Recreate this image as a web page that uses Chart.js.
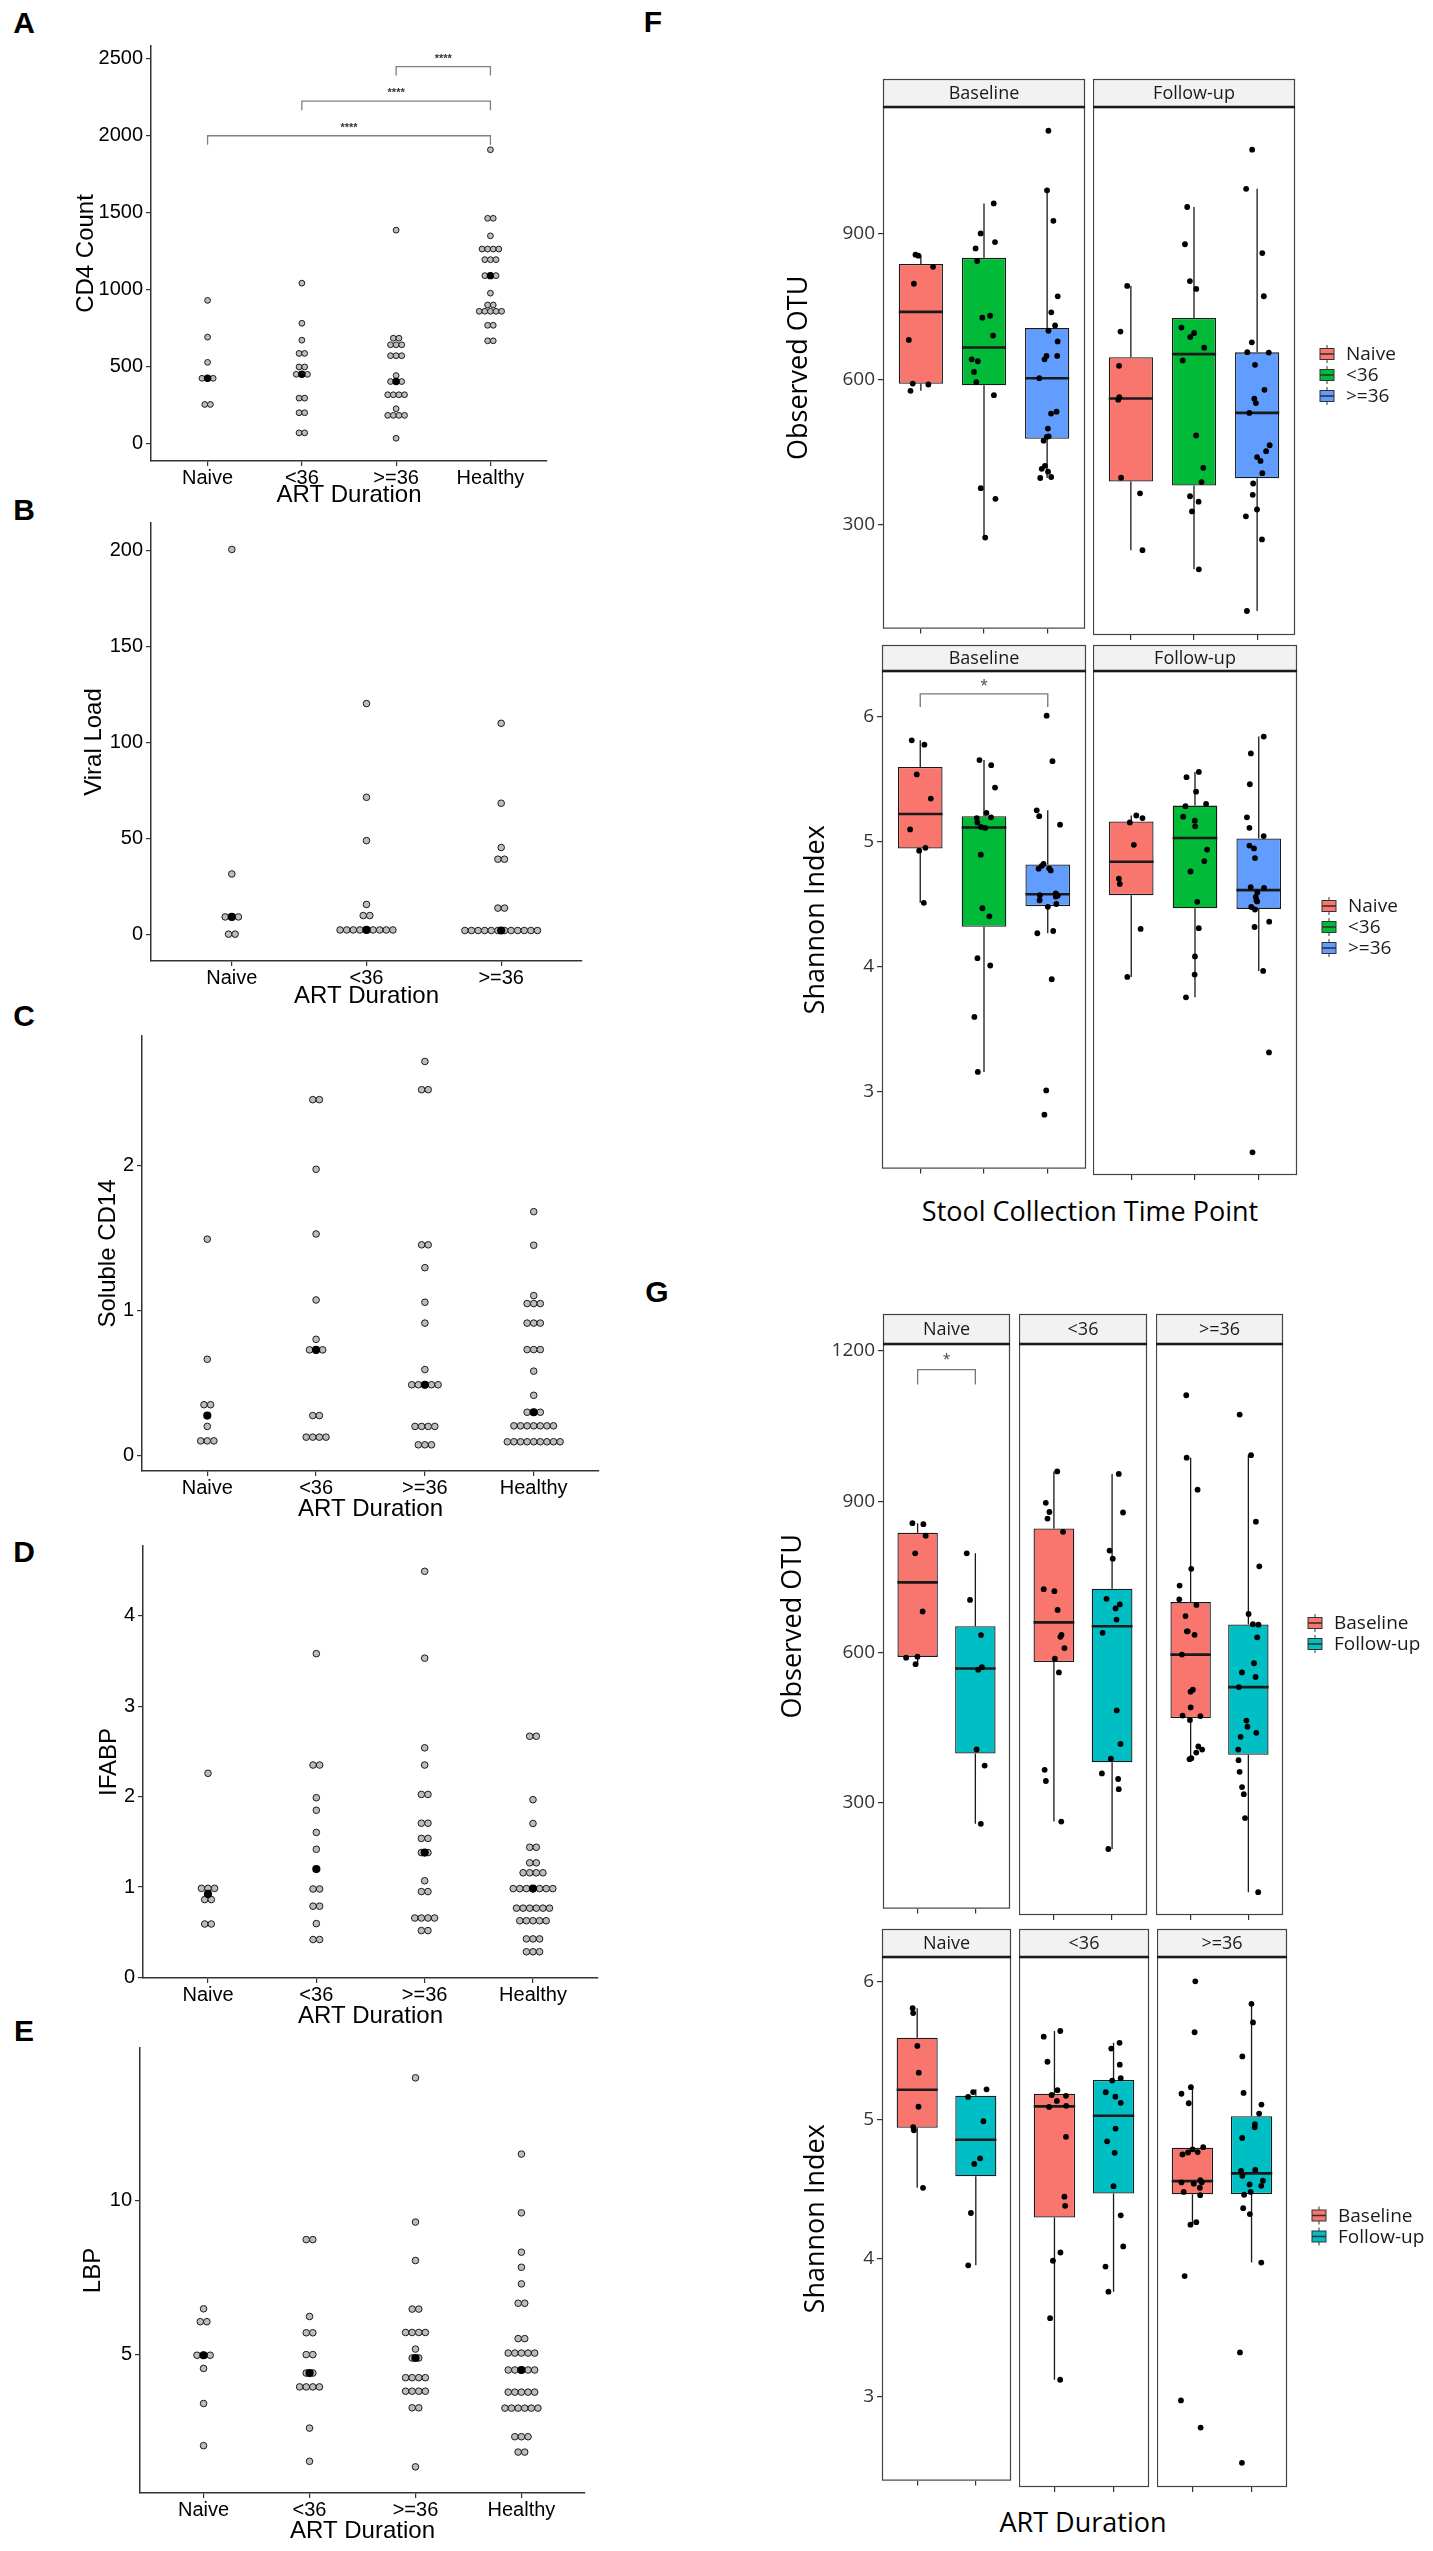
<!DOCTYPE html>
<html>
<head>
<meta charset="utf-8">
<title>Immune markers and gut microbial diversity by ART duration</title>
<script src="https://cdn.jsdelivr.net/npm/chart.js@4.4.1/dist/chart.umd.min.js"></script>
<style>
  html, body { margin: 0; padding: 0; background: #fff; }
  #figure { position: relative; width: 1433px; height: 2551px; overflow: hidden; }
  #figure canvas { position: absolute; }
  .tag { position: absolute; font: bold 30px 'Liberation Sans', Arial, sans-serif; line-height: 1; transform: translate(-50%, -50%); }
  .xtitle { position: absolute; font: 27px 'Open Sans', sans-serif; line-height: 1; white-space: nowrap; transform: translate(-50%, -50%); }
</style>
</head>
<body>
<div id="figure">
  <div class="tag" style="left:24px;top:23px">A</div>
  <div class="tag" style="left:24px;top:510px">B</div>
  <div class="tag" style="left:24px;top:1016px">C</div>
  <div class="tag" style="left:24px;top:1552px">D</div>
  <div class="tag" style="left:24px;top:2031px">E</div>
  <div class="tag" style="left:653px;top:22px">F</div>
  <div class="tag" style="left:657px;top:1292px">G</div>
  <div class="xtitle" style="left:1090px;top:1210px">Stool Collection Time Point</div>
  <div class="xtitle" style="left:1083px;top:2521px">ART Duration</div>
</div>
<script>
// categories
const groups4 = ['Naive', '<36', '>=36', 'Healthy'];
const groups3 = ['Naive', '<36', '>=36'];
const timePoints = ['Baseline', 'Follow-up'];

// A - CD4 count (dot plot, binned values)
const cd4Naive = [929, 690, 526, 422, 422, 422, 252, 252];
const cd4Lt36 = [1041, 780, 670, 584, 584, 496, 496, 448, 448, 448, 293, 293, 198, 198, 67, 67];
const cd4Ge36 = [1386, 683, 683, 640, 640, 640, 569, 569, 569, 440, 401, 401, 401, 315, 315, 315, 315, 224, 181, 181, 181, 181, 32];
const cd4Healthy = [1909, 1463, 1463, 1349, 1263, 1263, 1263, 1263, 1194, 1194, 1194, 1090, 1090, 1090, 976, 899, 899, 858, 858, 858, 858, 858, 767, 767, 666, 666];
const cd4Ticks = [0, 500, 1000, 1500, 2000, 2500];
const cd4SigFrom = [0, 1, 2];
const cd4SigTo = [3, 3, 3];
const cd4SigY = [2000, 2225, 2450];
const cd4SigText = ['****', '****', '****'];

// B - viral load
const vlNaive = [200.7, 31.4, 9, 9, 9, 0, 0];
const vlLt36 = [120.3, 71.4, 48.8, 15.5, 9.7, 9.7, 2.2, 2.2, 2.2, 2.2, 2.2, 2.2, 2.2, 2.2, 2.2];
const vlGe36 = [110, 68.3, 45.2, 39.1, 39.1, 13.6, 13.6, 1.9, 1.9, 1.9, 1.9, 1.9, 1.9, 1.9, 1.9, 1.9, 1.9, 1.9, 1.9];
const vlTicks = [0, 50, 100, 150, 200];

// C - soluble CD14
const scNaive = [1.494, 0.664, 0.35, 0.35, 0.2, 0.1, 0.1, 0.1];
const scLt36 = [2.458, 2.458, 1.977, 1.53, 1.074, 0.802, 0.729, 0.729, 0.729, 0.275, 0.275, 0.126, 0.126, 0.126, 0.126];
const scGe36 = [2.722, 2.527, 2.527, 1.455, 1.455, 1.297, 1.058, 0.914, 0.593, 0.488, 0.488, 0.488, 0.488, 0.488, 0.2, 0.2, 0.2, 0.2, 0.073, 0.073, 0.073];
const scHealthy = [1.684, 1.452, 1.104, 1.049, 1.049, 1.049, 0.914, 0.914, 0.914, 0.731, 0.731, 0.731, 0.582, 0.415, 0.298, 0.298, 0.298,
  0.204, 0.204, 0.204, 0.204, 0.204, 0.204, 0.204, 0.094, 0.094, 0.094, 0.094, 0.094, 0.094, 0.094, 0.094, 0.094];
const scTicks = [0, 1, 2];

// D - IFABP
const ifNaive = [2.258, 0.986, 0.986, 0.986, 0.862, 0.862, 0.592, 0.592];
const ifLt36 = [3.58, 2.349, 2.349, 1.988, 1.849, 1.604, 1.418, 0.979, 0.979, 0.789, 0.789, 0.596, 0.42, 0.42];
const ifGe36 = [4.49, 3.53, 2.539, 2.349, 2.024, 2.024, 1.706, 1.706, 1.538, 1.538, 1.381, 1.381, 1.07, 0.95, 0.95, 0.658, 0.658, 0.658, 0.658, 0.519, 0.519];
const ifHealthy = [2.667, 2.667, 1.966, 1.703, 1.44, 1.44, 1.268, 1.268, 1.158, 1.158, 1.158, 1.158,
  0.983, 0.983, 0.983, 0.983, 0.983, 0.983, 0.983, 0.767, 0.767, 0.767, 0.767, 0.767, 0.767,
  0.628, 0.628, 0.628, 0.628, 0.628, 0.427, 0.427, 0.427, 0.285, 0.285, 0.285];
const ifTicks = [0, 1, 2, 3, 4];

// E - LBP
const lbpNaive = [6.49, 6.07, 6.07, 4.98, 4.98, 4.98, 4.55, 3.41, 2.04];
const lbpLt36 = [8.74, 8.74, 6.24, 5.71, 5.71, 5.0, 5.0, 4.4, 4.4, 3.95, 3.95, 3.95, 3.95, 2.61, 1.53];
const lbpGe36 = [14.0, 9.31, 8.06, 6.48, 6.48, 5.72, 5.72, 5.72, 5.72, 5.18, 4.89, 4.89, 4.25, 4.25, 4.25, 4.25, 3.81, 3.81, 3.81, 3.81, 3.27, 3.27, 1.35];
const lbpHealthy = [11.52, 9.61, 8.33, 7.84, 7.3, 6.67, 6.67, 5.52, 5.52, 5.05, 5.05, 5.05, 5.05, 5.05,
  4.5, 4.5, 4.5, 4.5, 4.5, 3.78, 3.78, 3.78, 3.78, 3.78, 3.26, 3.26, 3.26, 3.26, 3.26, 3.26, 2.33, 2.33, 2.33, 1.83, 1.83];
const lbpTicks = [5, 10];

// F/G - observed OTU per sample
const otuBaseNaive = [832, 857, 855, 797, 681, 591, 589, 576];
const otuBaseLt36 = [963, 901, 883, 870, 844, 731, 727, 690, 641, 637, 615, 594, 567, 375, 353, 273];
const otuBaseGe36 = [1113, 990, 927, 771, 738, 711, 700, 678, 648, 648, 641, 602, 533, 529, 498, 482, 481, 473, 421, 415, 409, 398, 396];
const otuFollowNaive = [797, 704, 634, 570, 565, 406, 374, 258];
const otuFollowLt36 = [958, 882, 807, 791, 712, 701, 693, 671, 645, 492, 426, 397, 368, 357, 337, 219];
const otuFollowGe36 = [1075, 995, 864, 776, 682, 662, 661, 636, 585, 567, 558, 538, 472, 460, 448, 440, 415, 394, 371, 341, 327, 280, 134];

// F/G - Shannon index per sample
const shBaseNaive = [5.774, 5.809, 5.536, 5.343, 5.096, 4.949, 4.926, 4.509];
const shBaseLt36 = [5.651, 5.610, 5.431, 5.228, 5.193, 5.187, 5.151, 5.116, 5.108, 4.894, 4.466, 4.401, 4.067, 4.008, 3.597, 3.157];
const shBaseGe36 = [6.006, 5.642, 5.249, 5.202, 5.134, 4.820, 4.805, 4.785, 4.782, 4.768, 4.585, 4.570, 4.568, 4.559, 4.530, 4.500, 4.477, 4.284, 4.266, 3.898, 3.009, 2.815];
const shFollowNaive = [5.222, 5.202, 5.167, 4.991, 4.723, 4.682, 4.327, 3.948];
const shFollowLt36 = [5.566, 5.525, 5.410, 5.313, 5.296, 5.213, 5.181, 5.137, 4.953, 4.862, 4.780, 4.541, 4.333, 4.110, 3.966, 3.787];
const shFollowGe36 = [5.845, 5.712, 5.469, 5.208, 5.125, 5.060, 4.985, 4.962, 4.886, 4.657, 4.651, 4.615, 4.580, 4.553, 4.544, 4.500, 4.480, 4.384, 4.342, 3.995, 3.352, 2.563];

const otuTicksF = [300, 600, 900];
const otuTicksG = [300, 600, 900, 1200];
const shTicks = [3, 4, 5, 6];
const shSigFrom = [0], shSigTo = [2], shSigY = [6.18], shSigText = ['*'];
const otuSigFrom = [0], otuSigTo = [1], otuSigY = [1163], otuSigText = ['*'];

const groupColors = ['#F8766D', '#00BA38', '#619CFF'];
const timeColors = ['#F8766D', '#00BFC4'];

const LEFT_FONT = "'Liberation Sans', Arial, sans-serif";
const RIGHT_FONT = "'Open Sans', 'Noto Sans', sans-serif";
const fig = document.getElementById('figure');

// canvas placed so the chart area lands on the given rectangle
function mount(area, pad) {
  const c = document.createElement('canvas');
  const w = Math.round(area.r - area.l + pad.l + pad.r);
  const h = Math.round(area.b - area.t + pad.t + pad.b);
  c.width = w; c.height = h;
  c.style.left = (area.l - pad.l) + 'px';
  c.style.top = (area.t - pad.t) + 'px';
  c.style.width = w + 'px';
  c.style.height = h + 'px';
  fig.appendChild(c);
  return c;
}

function median(vals) {
  const s = [...vals].sort((a, b) => a - b);
  const m = s.length / 2;
  return s.length % 2 ? s[Math.floor(m)] : (s[m - 1] + s[m]) / 2;
}

function boxStats(vals) {
  const s = [...vals].sort((a, b) => a - b);
  const q = p => {
    const h = (s.length - 1) * p, lo = Math.floor(h);
    return s[lo] + (h - lo) * (s[Math.min(lo + 1, s.length - 1)] - s[lo]);
  };
  const q1 = q(0.25), med = q(0.5), q3 = q(0.75), iqr = q3 - q1;
  const lo = s.find(v => v >= q1 - 1.5 * iqr);
  const hi = [...s].reverse().find(v => v <= q3 + 1.5 * iqr);
  return { q1, med, q3, lo, hi };
}

// centred dot stacks: equal values sit side by side
function stackDots(series, step) {
  const pts = [];
  series.forEach((vals, i) => {
    const counts = {}, seen = {};
    vals.forEach(v => { counts[v] = (counts[v] || 0) + 1; });
    vals.forEach(v => {
      const k = seen[v] = seen[v] === undefined ? 0 : seen[v] + 1;
      pts.push({ x: i + (k - (counts[v] - 1) / 2) * step, y: v });
    });
  });
  return pts;
}

// fixed pseudo-random horizontal jitter for the box plot points
function jitter(seed, i, k) {
  const s = Math.sin(seed * 91.7 + i * 37.3 + k * 12.9898) * 43758.5453;
  return (s - Math.floor(s) - 0.5) * 0.4;
}

function sigBars(from, to, ys, texts, st) {
  return {
    id: 'sigBars',
    afterDatasetsDraw(chart) {
      const { ctx, scales: { x, y } } = chart;
      ctx.save();
      ctx.strokeStyle = st.line; ctx.lineWidth = 1.3;
      ctx.fillStyle = st.text; ctx.font = st.font;
      ctx.textAlign = 'center'; ctx.textBaseline = 'middle';
      from.forEach((f, i) => {
        const x1 = x.getPixelForValue(f), x2 = x.getPixelForValue(to[i]), yy = y.getPixelForValue(ys[i]);
        ctx.beginPath();
        ctx.moveTo(x1, yy + st.tip); ctx.lineTo(x1, yy); ctx.lineTo(x2, yy); ctx.lineTo(x2, yy + st.tip);
        ctx.stroke();
        ctx.fillText(texts[i], (x1 + x2) / 2, yy - st.gap);
      });
      ctx.restore();
    }
  };
}

function fixedTicks(values) {
  return scale => { scale.ticks = values.map(v => ({ value: v })); };
}

function dotPlot(o) {
  const { area, pad, cats, series } = o;
  const pxPerUnit = (area.r - area.l) / (cats.length - 1 + 1.2);
  const canvas = mount(area, pad);
  const axisGrid = { display: true, drawOnChartArea: false, drawTicks: true, tickLength: 5, color: '#333', lineWidth: 1.2, offset: false };
  const axisBorder = { display: true, color: '#333', width: 1.5 };
  new Chart(canvas, {
    type: 'scatter',
    data: {
      datasets: [
        { data: series.map((v, i) => ({ x: i, y: median(v) })), pointRadius: o.r + 0.8,
          pointBackgroundColor: '#000', pointBorderWidth: 0, order: 0, clip: false },
        { data: stackDots(series, o.dotPx / pxPerUnit), pointRadius: o.r,
          pointBackgroundColor: '#bdbdbd', pointBorderColor: '#1a1a1a', pointBorderWidth: 1, order: 1, clip: false }
      ]
    },
    options: {
      responsive: false, animation: false, events: [],
      layout: { autoPadding: false, padding: { top: pad.t, right: pad.r, left: 0, bottom: 0 } },
      plugins: { legend: { display: false }, tooltip: { enabled: false } },
      scales: {
        x: {
          type: 'linear', min: -0.6, max: cats.length - 0.4, offset: false,
          afterBuildTicks: fixedTicks(cats.map((c, i) => i)),
          afterFit: s => { s.height = pad.b; },
          ticks: { callback: (v, i) => cats[i], font: { family: LEFT_FONT, size: 20 }, color: '#000', padding: 0, autoSkip: false, maxRotation: 0 },
          grid: axisGrid, border: axisBorder,
          title: { display: true, text: 'ART Duration', font: { family: LEFT_FONT, size: 24 }, color: '#000', padding: 0 }
        },
        y: {
          type: 'linear', min: o.yMin, max: o.yMax, beginAtZero: false,
          afterBuildTicks: fixedTicks(o.yTicks),
          afterFit: s => { s.width = pad.l; },
          ticks: { callback: v => String(v), font: { family: LEFT_FONT, size: 20 }, color: '#000', padding: 3 },
          grid: axisGrid, border: axisBorder,
          title: { display: true, text: o.yTitle, font: { family: LEFT_FONT, size: 24 }, color: '#000', padding: 0 }
        }
      }
    },
    plugins: o.sig ? [o.sig] : []
  });
}

const boxWhiskers = {
  id: 'boxWhiskers',
  afterDatasetDraw(chart, args) {
    if (args.meta.type !== 'bar') return;
    const stats = chart.data.datasets[args.index].stats;
    const y = chart.scales.y, ctx = chart.ctx;
    ctx.save();
    ctx.strokeStyle = '#1a1a1a';
    args.meta.data.forEach((bar, i) => {
      const s = stats[i];
      ctx.lineWidth = 1.3;
      ctx.beginPath();
      ctx.moveTo(bar.x, y.getPixelForValue(s.q3)); ctx.lineTo(bar.x, y.getPixelForValue(s.hi));
      ctx.moveTo(bar.x, y.getPixelForValue(s.q1)); ctx.lineTo(bar.x, y.getPixelForValue(s.lo));
      ctx.stroke();
      ctx.lineWidth = 2.6;
      ctx.beginPath();
      const ym = y.getPixelForValue(s.med);
      ctx.moveTo(bar.x - bar.width / 2, ym); ctx.lineTo(bar.x + bar.width / 2, ym);
      ctx.stroke();
    });
    ctx.restore();
  }
};

function facetFrame(label, stripH) {
  return {
    id: 'facetFrame',
    afterDraw(chart) {
      const { ctx, chartArea: a } = chart;
      ctx.save();
      ctx.strokeStyle = '#444'; ctx.lineWidth = 1.2;
      ctx.strokeRect(a.left + 0.5, a.top, a.width - 1, a.height - 0.5);
      ctx.fillStyle = '#f2f2f2';
      ctx.fillRect(a.left, a.top - stripH, a.width, stripH);
      ctx.strokeRect(a.left + 0.5, a.top - stripH + 0.5, a.width - 1, stripH);
      ctx.strokeStyle = '#1a1a1a'; ctx.lineWidth = 2.5;
      ctx.beginPath(); ctx.moveTo(a.left, a.top); ctx.lineTo(a.right, a.top); ctx.stroke();
      ctx.fillStyle = '#1a1a1a';
      ctx.font = '18px ' + RIGHT_FONT;
      ctx.textAlign = 'center'; ctx.textBaseline = 'middle';
      ctx.fillText(label, (a.left + a.right) / 2, a.top - stripH / 2 + 1);
      ctx.restore();
    }
  };
}

function boxLegend(labels, colors) {
  return {
    id: 'boxLegend',
    afterDraw(chart) {
      const { ctx, chartArea: a } = chart;
      const cx = a.right + 32, mid = (a.top + a.bottom) / 2 + 4, gap = 21;
      ctx.save();
      labels.forEach((lab, i) => {
        const cy = mid + (i - (labels.length - 1) / 2) * gap;
        ctx.strokeStyle = '#333'; ctx.lineWidth = 1;
        ctx.beginPath(); ctx.moveTo(cx, cy - 9); ctx.lineTo(cx, cy + 9); ctx.stroke();
        ctx.fillStyle = colors[i];
        ctx.fillRect(cx - 7, cy - 5.5, 14, 11);
        ctx.strokeRect(cx - 7, cy - 5.5, 14, 11);
        ctx.lineWidth = 1.6;
        ctx.beginPath(); ctx.moveTo(cx - 7, cy); ctx.lineTo(cx + 7, cy); ctx.stroke();
        ctx.fillStyle = '#1a1a1a';
        ctx.font = '19px ' + RIGHT_FONT;
        ctx.textAlign = 'left'; ctx.textBaseline = 'middle';
        ctx.fillText(lab, cx + 19, cy + 1);
      });
      ctx.restore();
    }
  };
}

function boxFacet(o) {
  const { area, pad, cats, series } = o;
  const canvas = mount(area, pad);
  const stats = series.map(boxStats);
  const points = [];
  series.forEach((vals, i) => vals.forEach((v, k) => points.push({ x: i + jitter(o.seed, i, k), y: v })));
  const plugins = [boxWhiskers, facetFrame(o.strip, o.stripH)];
  if (o.legend) plugins.push(boxLegend(o.legend, o.legendColors));
  if (o.sig) plugins.push(o.sig);
  const tickGrid = { display: true, drawOnChartArea: false, drawTicks: true, tickLength: 5, color: '#333', lineWidth: 1.2, offset: false };
  new Chart(canvas, {
    type: 'bar',
    data: {
      datasets: [
        { type: 'scatter', data: points, pointRadius: 2.9, pointBackgroundColor: '#000', pointBorderWidth: 0, order: 0, clip: false },
        { type: 'bar', data: stats.map((s, i) => ({ x: i, y: [s.q1, s.q3] })), stats,
          backgroundColor: o.colors, borderColor: '#1a1a1a', borderWidth: 1.3, borderSkipped: false,
          barPercentage: 0.7, categoryPercentage: 1, order: 1 }
      ]
    },
    options: {
      responsive: false, animation: false, events: [],
      layout: { autoPadding: false, padding: { top: pad.t, right: pad.r, left: o.yTitle ? 0 : pad.l, bottom: 0 } },
      plugins: { legend: { display: false }, tooltip: { enabled: false } },
      scales: {
        x: {
          type: 'linear', min: -0.6, max: cats.length - 0.4, offset: false,
          afterBuildTicks: fixedTicks(cats.map((c, i) => i)),
          afterFit: s => { s.height = pad.b; },
          ticks: { display: false },
          grid: tickGrid, border: { display: false }
        },
        y: {
          type: 'linear', display: !!o.yTitle, min: o.yMin, max: o.yMax, beginAtZero: false,
          afterBuildTicks: fixedTicks(o.yTicks),
          afterFit: s => { s.width = pad.l; },
          ticks: { callback: v => String(v), font: { family: RIGHT_FONT, size: 19 }, color: '#333', padding: 3 },
          grid: tickGrid, border: { display: false },
          title: { display: !!o.yTitle, text: o.yTitle || '', font: { family: RIGHT_FONT, size: 27 }, color: '#000', padding: 0 }
        }
      }
    },
    plugins
  });
}

// ---- left column: dot plots ----
dotPlot({ area: { l: 151, t: 43, r: 547, b: 461 }, pad: { l: 79, t: 12, r: 12, b: 49 },
  cats: groups4, series: [cd4Naive, cd4Lt36, cd4Ge36, cd4Healthy],
  yMin: -116, yMax: 2584, yTicks: cd4Ticks, yTitle: 'CD4 Count', dotPx: 5.6, r: 2.9,
  sig: sigBars(cd4SigFrom, cd4SigTo, cd4SigY, cd4SigText, { line: '#808080', text: '#333', font: 'bold 11px ' + LEFT_FONT, tip: 9, gap: 8 }) });

dotPlot({ area: { l: 151, t: 520, r: 582, b: 961 }, pad: { l: 71, t: 12, r: 12, b: 50 },
  cats: groups3, series: [vlNaive, vlLt36, vlGe36],
  yMin: -14, yMax: 214.5, yTicks: vlTicks, yTitle: 'Viral Load', dotPx: 6.6, r: 3.3 });

dotPlot({ area: { l: 142, t: 1033, r: 599, b: 1471 }, pad: { l: 48, t: 12, r: 12, b: 53 },
  cats: groups4, series: [scNaive, scLt36, scGe36, scHealthy],
  yMin: -0.108, yMax: 2.898, yTicks: scTicks, yTitle: 'Soluble CD14', dotPx: 6.6, r: 3.3 });

dotPlot({ area: { l: 143, t: 1543, r: 598, b: 1978 }, pad: { l: 48, t: 12, r: 12, b: 53 },
  cats: groups4, series: [ifNaive, ifLt36, ifGe36, ifHealthy],
  yMin: -0.005, yMax: 4.77, yTicks: ifTicks, yTitle: 'IFABP', dotPx: 6.6, r: 3.3 });

dotPlot({ area: { l: 140, t: 2045, r: 585, b: 2493 }, pad: { l: 61, t: 12, r: 12, b: 53 },
  cats: groups4, series: [lbpNaive, lbpLt36, lbpGe36, lbpHealthy],
  yMin: 0.5, yMax: 14.97, yTicks: lbpTicks, yTitle: 'LBP', dotPx: 6.6, r: 3.3 });

// ---- F: facets by time point ----
boxFacet({ area: { l: 883, t: 107, r: 1085, b: 635 }, pad: { l: 100, t: 30, r: 2, b: 8 },
  cats: groups3, series: [otuBaseNaive, otuBaseLt36, otuBaseGe36], colors: groupColors,
  yMin: 85, yMax: 1162, yTicks: otuTicksF, yTitle: 'Observed OTU', strip: timePoints[0], stripH: 28, seed: 1 });
boxFacet({ area: { l: 1093, t: 107, r: 1295, b: 635 }, pad: { l: 0, t: 30, r: 138, b: 8 },
  cats: groups3, series: [otuFollowNaive, otuFollowLt36, otuFollowGe36], colors: groupColors,
  yMin: 85, yMax: 1162, yTicks: otuTicksF, strip: timePoints[1], stripH: 28, seed: 2,
  legend: groups3, legendColors: groupColors });

boxFacet({ area: { l: 882, t: 671, r: 1086, b: 1175 }, pad: { l: 82, t: 28, r: 2, b: 8 },
  cats: groups3, series: [shBaseNaive, shBaseLt36, shBaseGe36], colors: groupColors,
  yMin: 2.384, yMax: 6.363, yTicks: shTicks, yTitle: 'Shannon Index', strip: timePoints[0], stripH: 26, seed: 3,
  sig: sigBars(shSigFrom, shSigTo, shSigY, shSigText, { line: '#777', text: '#444', font: '14px ' + RIGHT_FONT, tip: 13, gap: 8 }) });
boxFacet({ area: { l: 1093, t: 671, r: 1297, b: 1175 }, pad: { l: 0, t: 28, r: 136, b: 8 },
  cats: groups3, series: [shFollowNaive, shFollowLt36, shFollowGe36], colors: groupColors,
  yMin: 2.384, yMax: 6.363, yTicks: shTicks, strip: timePoints[1], stripH: 26, seed: 4,
  legend: groups3, legendColors: groupColors });

// ---- G: facets by ART duration ----
const gTopAreas = [{ l: 883, r: 1010 }, { l: 1019, r: 1147 }, { l: 1156, r: 1283 }];
const gTopSeries = [[otuBaseNaive, otuFollowNaive], [otuBaseLt36, otuFollowLt36], [otuBaseGe36, otuFollowGe36]];
gTopAreas.forEach((a, i) => boxFacet({
  area: { l: a.l, t: 1344, r: a.r, b: 1915 }, pad: { l: i === 0 ? 106 : 0, t: 32, r: i === 2 ? 150 : 2, b: 8 },
  cats: timePoints, series: gTopSeries[i], colors: timeColors,
  yMin: 89, yMax: 1214, yTicks: otuTicksG, yTitle: i === 0 ? 'Observed OTU' : null, strip: groups3[i], stripH: 30, seed: 5 + i,
  legend: i === 2 ? timePoints : null, legendColors: timeColors,
  sig: i === 0 ? sigBars(otuSigFrom, otuSigTo, otuSigY, otuSigText, { line: '#777', text: '#444', font: '14px ' + RIGHT_FONT, tip: 15, gap: 10 }) : null
}));

const gBotAreas = [{ l: 882, r: 1011 }, { l: 1019, r: 1149 }, { l: 1157, r: 1287 }];
const gBotSeries = [[shBaseNaive, shFollowNaive], [shBaseLt36, shFollowLt36], [shBaseGe36, shFollowGe36]];
gBotAreas.forEach((a, i) => boxFacet({
  area: { l: a.l, t: 1957, r: a.r, b: 2487 }, pad: { l: i === 0 ? 82 : 0, t: 30, r: i === 2 ? 146 : 2, b: 8 },
  cats: timePoints, series: gBotSeries[i], colors: timeColors,
  yMin: 2.39, yMax: 6.18, yTicks: shTicks, yTitle: i === 0 ? 'Shannon Index' : null, strip: groups3[i], stripH: 28, seed: 9 + i,
  legend: i === 2 ? timePoints : null, legendColors: timeColors
}));
</script>
</body>
</html>
